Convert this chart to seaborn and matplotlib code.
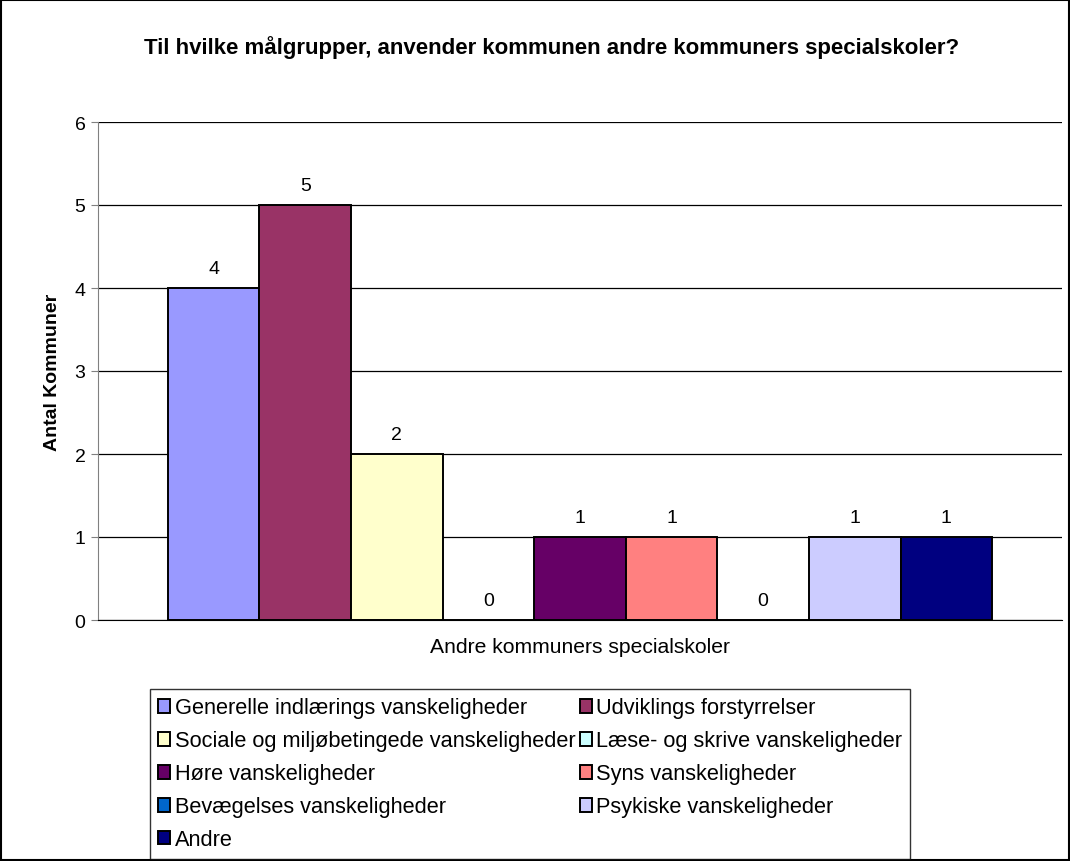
import pandas as pd
import matplotlib
matplotlib.use('Agg')
import matplotlib.pyplot as plt
import seaborn as sns
from matplotlib.patches import Rectangle

grupper = ['Generelle indlærings vanskeligheder', 'Udviklings forstyrrelser',
           'Sociale og miljøbetingede vanskeligheder', 'Læse- og skrive vanskeligheder',
           'Høre vanskeligheder', 'Syns vanskeligheder',
           'Bevægelses vanskeligheder', 'Psykiske vanskeligheder', 'Andre']
antal = [4, 5, 2, 0, 1, 1, 0, 1, 1]
kategori = 'Andre kommuners specialskoler'
farver = ['#9999FF', '#993366', '#FFFFCC', '#CCFFFF', '#660066',
          '#FF8080', '#0066CC', '#CCCCFF', '#000080']

df = pd.DataFrame({'kategori': [kategori] * len(grupper), 'gruppe': grupper, 'antal': antal})

sns.set_style('white')
plt.rcParams['font.family'] = ['Liberation Sans', 'DejaVu Sans']
plt.rcParams['text.color'] = 'black'
plt.rcParams['axes.labelcolor'] = 'black'
plt.rcParams['ytick.labelcolor'] = 'black'

fig = plt.figure(figsize=(10.7, 8.62), dpi=100)
ax = fig.add_axes([98 / 1070, 1 - 621 / 862, 964 / 1070, 498 / 862])

sns.barplot(data=df, x='kategori', y='antal', hue='gruppe', hue_order=grupper,
            palette=farver, saturation=1, width=0.855, gap=0, edgecolor='black',
            linewidth=1.4, legend=False, ax=ax)

for c in ax.containers:
    ax.bar_label(c, fmt='%d', padding=8, fontsize=14, color='black')

ax.set_ylim(0, 6)
ax.set_xlim(-0.5, 0.5)
ax.set_yticks(range(0, 7))
ax.yaxis.grid(True, color='black', linewidth=0.9)
ax.set_axisbelow(True)
ax.tick_params(axis='y', labelsize=14, length=5, left=True, color='#808080',
               labelcolor='black', pad=4)
ax.tick_params(axis='x', length=0, labelbottom=False)
for s in ['top', 'right']:
    ax.spines[s].set_visible(False)
ax.spines['left'].set_color('#808080')
ax.spines['bottom'].set_color('black')
ax.set_ylabel('Antal Kommuner', fontsize=14, fontweight='bold', labelpad=10)
ax.set_xlabel(kategori, fontsize=15.2, labelpad=12)

fig.text(552 / 1070, 1 - 48 / 862, 'Til hvilke målgrupper, anvender kommunen andre kommuners specialskoler?',
         ha='center', va='center', fontsize=16, fontweight='bold')

# legend filled row by row like the original
handles = [Rectangle((0, 0), 1, 1, facecolor=f, edgecolor='black', linewidth=1.4) for f in farver]
order = [0, 2, 4, 6, 8, 1, 3, 5, 7]
leg = fig.legend([handles[i] for i in order], [grupper[i] for i in order], ncol=2,
                 loc='upper left', bbox_to_anchor=(150 / 1070, 1 - 690 / 862),
                 fontsize=15.7, frameon=True, fancybox=False, edgecolor='black',
                 handlelength=0.55, handleheight=0.6, handletextpad=0.2,
                 columnspacing=0.2, labelspacing=0.55, borderpad=0.38, borderaxespad=0)
leg.get_frame().set_linewidth(1.0)

fig.patches.append(Rectangle((0.001, 0.001), 0.998, 0.998, transform=fig.transFigure,
                             fill=False, edgecolor='black', linewidth=1.5))

fig.savefig('out.png', dpi=100)
